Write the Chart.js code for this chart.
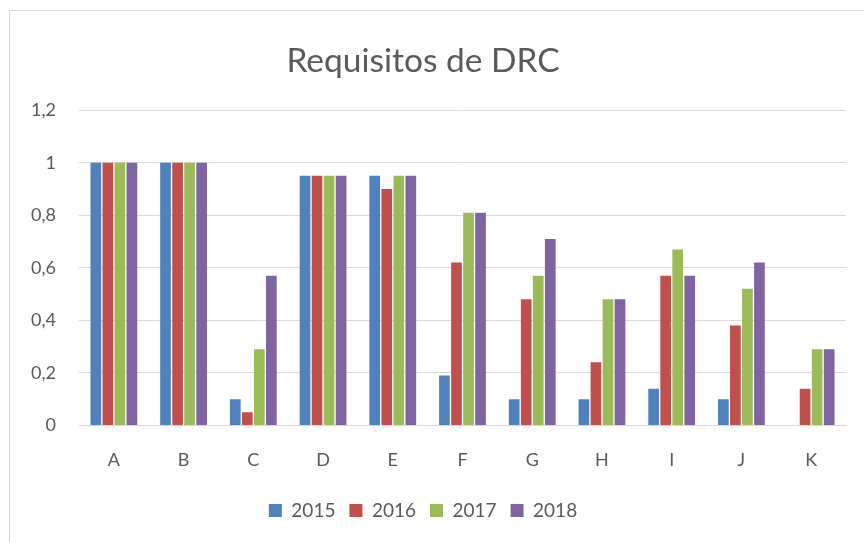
<!DOCTYPE html>
<html>
<head>
<meta charset="utf-8">
<script src="https://cdn.jsdelivr.net/npm/chart.js@4.4.1/dist/chart.umd.min.js"></script>
<style>
  html, body { margin: 0; padding: 0; background: #fff; overflow: hidden; }
  .frame {
    position: absolute;
    left: 9px;
    top: 10px;
    width: 900px;
    height: 600px;
    border: 1px solid #d9d9d9;
  }
  .wrap { position: absolute; left: 0; top: 0; width: 864px; height: 542px; }
</style>
</head>
<body>
<div class="frame"></div>
<div class="wrap"><canvas id="chart"></canvas></div>
<script>
const categories = ["A", "B", "C", "D", "E", "F", "G", "H", "I", "J", "K"];
const v2015 = [1, 1, 0.1, 0.95, 0.95, 0.19, 0.1, 0.1, 0.14, 0.1, 0];
const v2016 = [1, 1, 0.05, 0.95, 0.9, 0.62, 0.48, 0.24, 0.57, 0.38, 0.14];
const v2017 = [1, 1, 0.29, 0.95, 0.95, 0.81, 0.57, 0.48, 0.67, 0.52, 0.29];
const v2018 = [1, 1, 0.57, 0.95, 0.95, 0.81, 0.71, 0.48, 0.57, 0.62, 0.29];

const palette = {
  blue: "#4f81bd",
  red: "#c0504d",
  green: "#9bbb59",
  purple: "#8064a2",
  text: "#595959",
  grid: "#d9d9d9",
};

const font = "Lato, 'Open Sans', sans-serif";

function series(label, data, color) {
  return {
    label,
    data,
    backgroundColor: color,
    borderWidth: 0,
    categoryPercentage: 0.69,
    barPercentage: 0.89,
  };
}

new Chart(document.getElementById("chart"), {
  type: "bar",
  data: {
    labels: categories,
    datasets: [
      series("2015", v2015, palette.blue),
      series("2016", v2016, palette.red),
      series("2017", v2017, palette.green),
      series("2018", v2018, palette.purple),
    ],
  },
  options: {
    responsive: true,
    maintainAspectRatio: false,
    animation: false,
    layout: { padding: { top: 41, right: 18, bottom: 12, left: 0 } },
    plugins: {
      title: {
        display: true,
        text: "Requisitos de DRC",
        color: palette.text,
        font: { family: font, size: 33.5, weight: "normal" },
        padding: { top: 0, bottom: 29 },
      },
      legend: {
        position: "bottom",
        labels: {
          color: palette.text,
          font: { family: font, size: 19 },
          boxWidth: 13,
          boxHeight: 13,
          padding: 14,
        },
      },
      tooltip: { enabled: false },
    },
    scales: {
      x: {
        grid: { display: false },
        border: { color: palette.grid, width: 1 },
        ticks: { color: palette.text, font: { family: font, size: 18 }, padding: 16 },
      },
      y: {
        min: 0,
        max: 1.2,
        afterFit: (scale) => { scale.width = 79; },
        grid: { color: palette.grid, drawTicks: false },
        border: { display: false },
        ticks: {
          stepSize: 0.2,
          color: palette.text,
          font: { family: font, size: 18 },
          padding: 23,
          callback: (value) => String(Math.round(value * 10) / 10).replace(".", ","),
        },
      },
    },
  },
});
</script>
</body>
</html>
